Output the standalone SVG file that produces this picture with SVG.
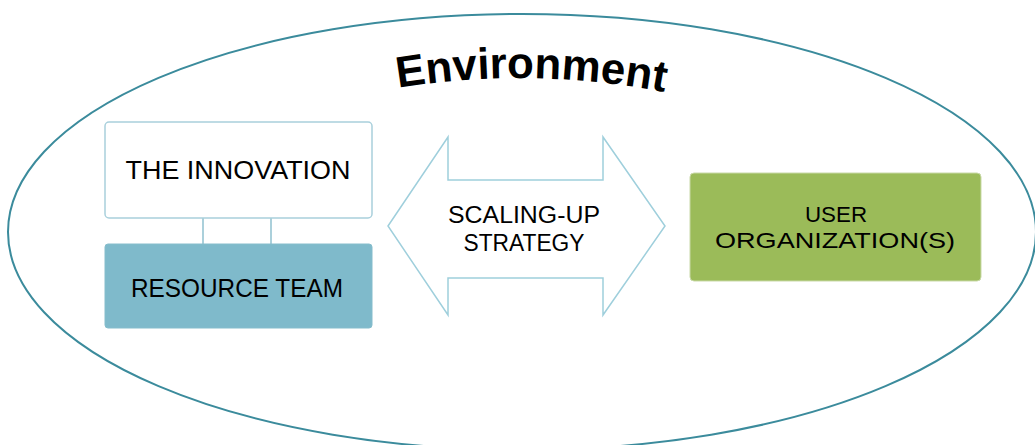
<svg xmlns="http://www.w3.org/2000/svg" width="1035" height="445" viewBox="0 0 1035 445">
<style>
.lbl{font-family:"Liberation Sans",Arial,sans-serif;fill:#000;text-anchor:middle}
.env{font-family:"Liberation Sans",Arial,sans-serif;font-weight:bold;fill:#000}
</style>
<defs>
<path id="arc" d="M 398 88 Q 530 66 670 93"/>
</defs>
<rect width="1035" height="445" fill="#fff"/>
<g id="environment">
<ellipse cx="522" cy="232" rx="514" ry="218" fill="none" stroke="#3b8b9c" stroke-width="2"/>
<text class="env" font-size="44"><textPath href="#arc" textLength="268" lengthAdjust="spacingAndGlyphs">Environment</textPath></text>
</g>
<g id="connectors" stroke="#8fc0cf" stroke-width="1.5">
<line x1="203" y1="218" x2="203" y2="244"/>
<line x1="271" y1="218" x2="271" y2="244"/>
</g>
<g id="innovation">
<rect x="105" y="122" width="267" height="96" rx="4" fill="#fff" stroke="#a9d0dc" stroke-width="1.5"/>
<text class="lbl" x="238" y="179" font-size="25" textLength="225" lengthAdjust="spacingAndGlyphs">THE INNOVATION</text>
</g>
<g id="resource-team">
<rect x="105" y="244" width="267" height="84" rx="3" fill="#7fbacb" stroke="#86bdcc" stroke-width="1"/>
<text class="lbl" x="237" y="297" font-size="25" textLength="212" lengthAdjust="spacingAndGlyphs">RESOURCE TEAM</text>
</g>
<g id="scaling-up">
<polygon points="388,226 448,137 448,180 603,180 603,137 665,226 603,315 603,278 448,278 448,315" fill="#fff" stroke="#9fcfdc" stroke-width="1.5"/>
<text class="lbl" x="524" y="223" font-size="23" textLength="152" lengthAdjust="spacingAndGlyphs">SCALING-UP</text>
<text class="lbl" x="524" y="251" font-size="23" textLength="121" lengthAdjust="spacingAndGlyphs">STRATEGY</text>
</g>
<g id="user-org">
<rect x="690" y="173" width="291" height="108" rx="4" fill="#9bbb59" stroke="#c9d9a8" stroke-width="1"/>
<text class="lbl" x="836" y="222" font-size="22" textLength="62" lengthAdjust="spacingAndGlyphs">USER</text>
<text class="lbl" x="835" y="248" font-size="22" textLength="240" lengthAdjust="spacingAndGlyphs">ORGANIZATION(S)</text>
</g>
</svg>
